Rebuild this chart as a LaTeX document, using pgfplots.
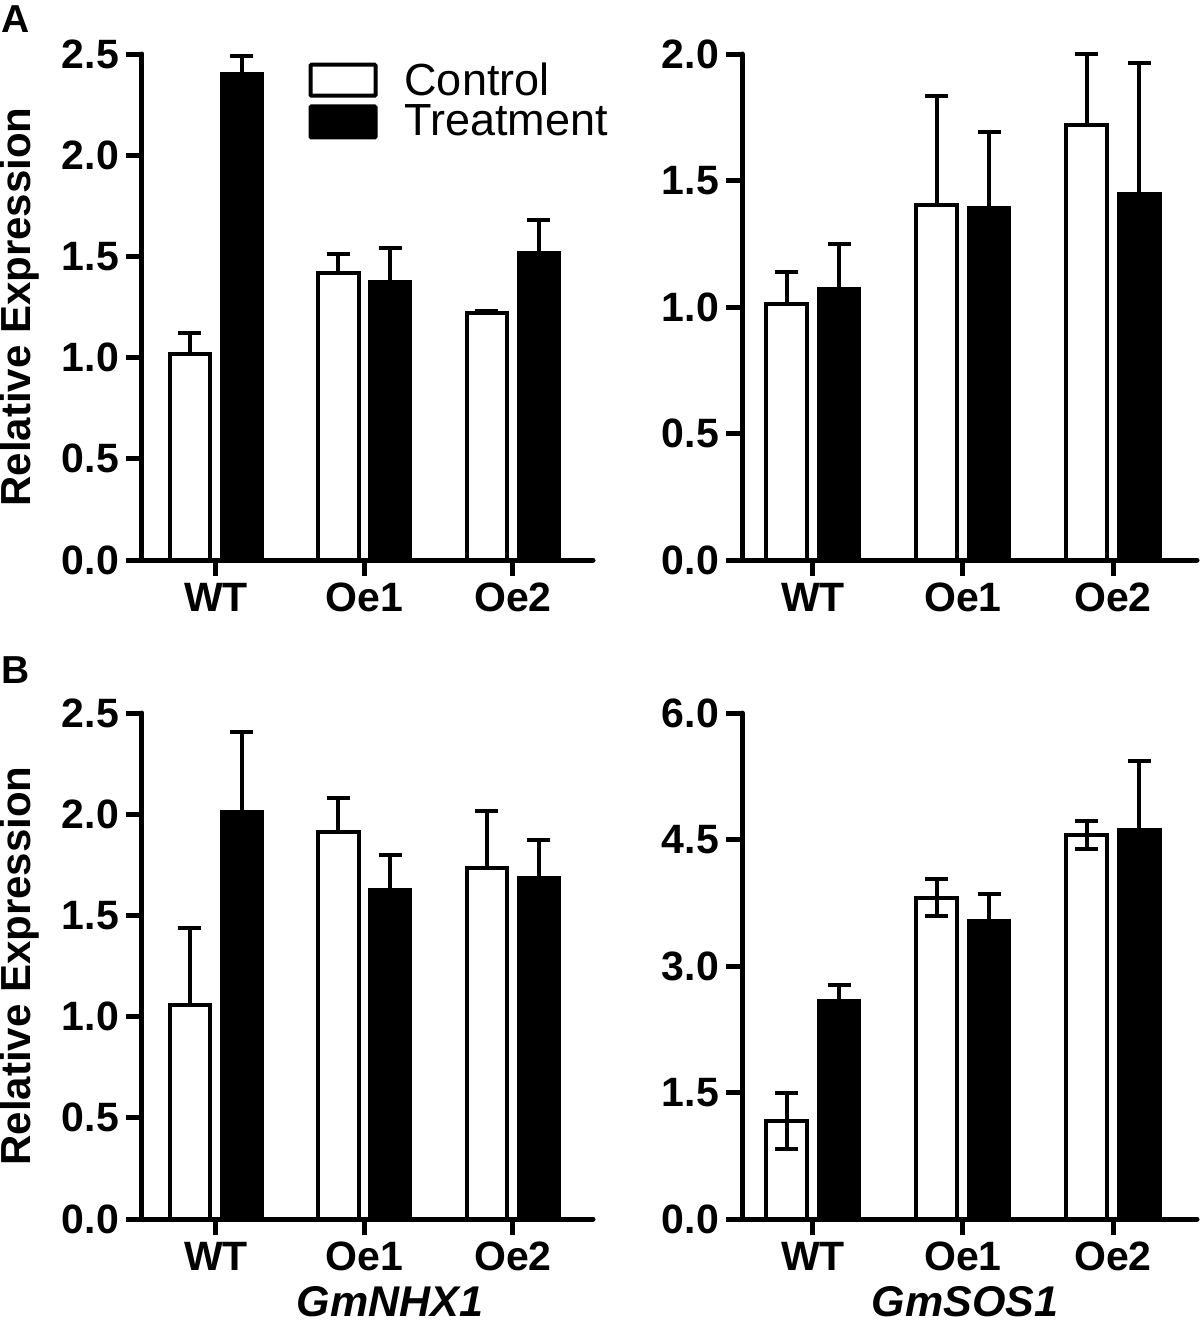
\documentclass[border=0pt]{standalone}
\usepackage{pgfplots}
\pgfplotsset{compat=1.18}
\usepackage{fontspec}
\setmainfont{Liberation Sans}
\begin{document}
\begin{tikzpicture}
\useasboundingbox (0pt,0pt) rectangle (600pt,-664pt);
\pgfplotsset{
  panel/.style={
    scale only axis,
    ymin=0,
    axis lines=left,
    axis line style={-, line width=2.5pt, line cap=round},
    tick align=outside,
    major tick length=8pt,
    every tick/.style={black, line width=2.5pt},
    xtick={0,1,2},
    xticklabels={WT,Oe1,Oe2},
    ticklabel style={font=\fontsize{20.5}{24}\selectfont\bfseries},
    /pgf/number format/assume math mode=true,
    yticklabel style={/pgf/number format/.cd, fixed, fixed zerofill, precision=1},
    scaled y ticks=false,
    bar width=0.27,
    clip=false,
  },
  leftpanel/.style={panel, width=225.5pt, height=253pt, xmin=-0.498, xmax=2.539,
     ylabel={Relative Expression},
     every axis y label/.style={at={(axis description cs:-0.2705,0.5)}, rotate=90, anchor=center,
        font=\fontsize{21}{25}\selectfont\bfseries},
     every axis x label/.style={at={(axis description cs:0.55,-0.164)}, anchor=center,
        font=\fontsize{21.5}{25}\selectfont\bfseries\itshape}},
  rightpanel/.style={panel, width=227.5pt, height=253pt, xmin=-0.473, xmax=2.56,
     every axis x label/.style={at={(axis description cs:0.49,-0.164)}, anchor=center,
        font=\fontsize{21.5}{25}\selectfont\bfseries\itshape}},
  boxlegend/.style={legend image code/.code={\draw[##1, line width=2pt, rounded corners=0.5pt] (0pt,-7.75pt) rectangle (32.5pt,7.75pt);}},
  ctrl/.style={ybar, boxlegend, bar shift=0pt, fill=white, draw=black, line width=2pt,
     error bars/.cd, y dir=plus, y explicit,
     error bar style={line width=2pt, black, solid},
     error mark options={black, line width=2pt, mark size=5.75pt, rotate=90}},
  ctrlboth/.style={ybar, boxlegend, bar shift=0pt, fill=white, draw=black, line width=2pt,
     error bars/.cd, y dir=both, y explicit,
     error bar style={line width=2pt, black, solid},
     error mark options={black, line width=2pt, mark size=5.75pt, rotate=90}},
  treat/.style={ybar, boxlegend, bar shift=0pt, fill=black, draw=black, line width=2pt,
     error bars/.cd, y dir=plus, y explicit,
     error bar style={line width=2pt, black, solid},
     error mark options={black, line width=2pt, mark size=5.75pt, rotate=90}},
}
% Panel A left
\begin{axis}[leftpanel, at={(71pt,-280pt)}, anchor=south west, ymax=2.5, ytick={0,0.5,...,2.5},
  legend style={at={(axis description cs:0.355,1.0)}, anchor=north west, draw=none, fill=none,
    font=\fontsize{22.5}{26}\selectfont, cells={anchor=west}, row sep=-0.5pt,
    /tikz/every odd column/.append style={column sep=11.5pt}}]
\addplot[ctrl] coordinates {(-0.175,1.02) +- (0,0.10) (0.825,1.42) +- (0,0.09) (1.825,1.22) +- (0,0.01)};
\addplot[treat] coordinates {(0.175,2.40) +- (0,0.09) (1.175,1.375) +- (0,0.165) (2.175,1.515) +- (0,0.165)};
\legend{Control,Treatment}
\end{axis}
% Panel A right
\begin{axis}[rightpanel, at={(371pt,-280pt)}, anchor=south west, ymax=2.0, ytick={0,0.5,...,2.0}]
\addplot[ctrl] coordinates {(-0.175,1.01) +- (0,0.13) (0.825,1.405) +- (0,0.43) (1.825,1.72) +- (0,0.28)};
\addplot[treat] coordinates {(0.175,1.07) +- (0,0.18) (1.175,1.39) +- (0,0.30) (2.175,1.445) +- (0,0.52)};
\end{axis}
% Panel B left
\begin{axis}[leftpanel, at={(71pt,-609.5pt)}, anchor=south west, ymax=2.5, ytick={0,0.5,...,2.5},
  xlabel={GmNHX1}]
\addplot[ctrl] coordinates {(-0.175,1.055) +- (0,0.385) (0.825,1.91) +- (0,0.17) (1.825,1.735) +- (0,0.28)};
\addplot[treat] coordinates {(0.175,2.01) +- (0,0.395) (1.175,1.625) +- (0,0.175) (2.175,1.685) +- (0,0.19)};
\end{axis}
% Panel B right
\begin{axis}[rightpanel, at={(371pt,-609.5pt)}, anchor=south west, ymax=6.0, ytick={0,1.5,...,6.0},
  xlabel={GmSOS1}]
\addplot[ctrlboth] coordinates {(-0.175,1.165) +- (0,0.33) (0.825,3.81) +- (0,0.22) (1.825,4.555) +- (0,0.17)};
\addplot[treat] coordinates {(0.175,2.59) +- (0,0.185) (1.175,3.535) +- (0,0.315) (2.175,4.61) +- (0,0.82)};
\end{axis}
\node[font=\fontsize{19.5}{22}\selectfont\bfseries] at (8pt,-9.5pt) {A};
\node[font=\fontsize{19.5}{22}\selectfont\bfseries] at (8pt,-335pt) {B};
\end{tikzpicture}
\end{document}
